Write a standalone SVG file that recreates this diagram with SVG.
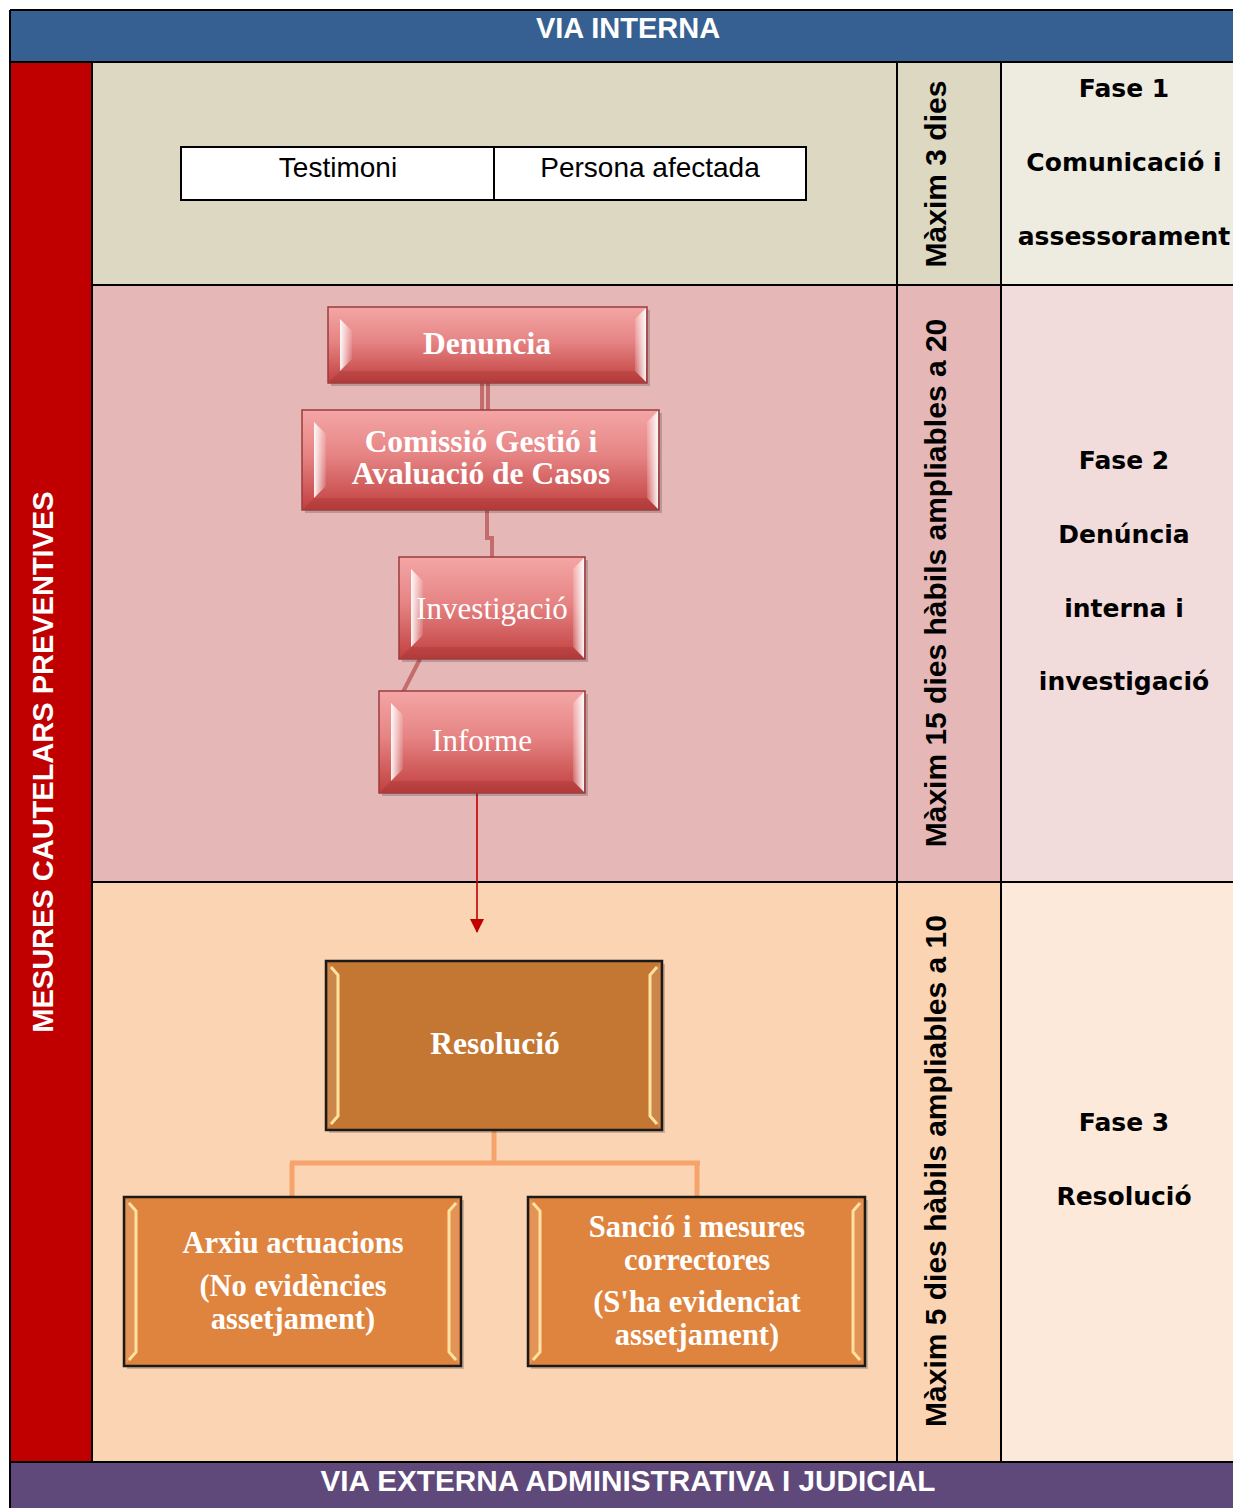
<svg xmlns="http://www.w3.org/2000/svg" width="1233" height="1508" viewBox="0 0 1233 1508">
<defs>
<style>
.grid{stroke:#000;stroke-width:2;fill:none}
.hdr{font-family:"Liberation Sans",Arial,sans-serif;font-weight:bold;font-size:29px;fill:#fff;text-anchor:middle}
.side{font-family:"Liberation Sans",Arial,sans-serif;font-weight:bold;font-size:29px;fill:#fff;text-anchor:middle}
.time{font-family:"Liberation Sans",Arial,sans-serif;font-weight:bold;font-size:30px;fill:#000;text-anchor:middle}
.phase{font-family:"DejaVu Sans",Verdana,sans-serif;font-weight:bold;font-size:25px;fill:#000;text-anchor:middle}
.who{font-family:"Liberation Sans",Arial,sans-serif;font-size:28px;fill:#000;text-anchor:middle}
.nb{font-family:"Liberation Serif","Times New Roman",serif;font-weight:bold;font-size:31.5px;fill:#fff;text-anchor:middle}
.nm{font-family:"Liberation Serif","Times New Roman",serif;font-weight:bold;font-size:30.5px;fill:#fff;text-anchor:middle}
.nr{font-family:"Liberation Serif","Times New Roman",serif;font-size:31px;fill:#fff;text-anchor:middle}
.redbox{fill:url(#redG);stroke:#9A3C3C;stroke-width:1.5}
.resbox{fill:#C47633;stroke:#1A1A1A;stroke-width:2.5}
.orbox{fill:#DF843E;stroke:#1A1A1A;stroke-width:2.5}
.shadow{fill:#000;opacity:0.18}
.bl{fill:url(#bevL)}
.br{fill:url(#bevR)}
.bb{fill:#7A1A1A;opacity:0.18}
.obev{fill:#fff;opacity:0.12}
.oline{stroke:#FFE2A0;stroke-width:3;fill:none}
.rcon{stroke:#C46C6C;stroke-width:4;fill:none}
.ocon{stroke:#F6A46C;stroke-width:5;fill:none}
</style>
<linearGradient id="redG" x1="0" y1="0" x2="0" y2="1">
<stop offset="0" stop-color="#F4A6A6"/>
<stop offset="0.45" stop-color="#E68484"/>
<stop offset="1" stop-color="#C1403F"/>
</linearGradient>
<linearGradient id="bevL" x1="0" y1="0" x2="1" y2="0">
<stop offset="0" stop-color="#fff" stop-opacity="0.95"/>
<stop offset="1" stop-color="#fff" stop-opacity="0.1"/>
</linearGradient>
<linearGradient id="bevR" x1="0" y1="0" x2="1" y2="0">
<stop offset="0" stop-color="#fff" stop-opacity="0.15"/>
<stop offset="1" stop-color="#fff" stop-opacity="0.95"/>
</linearGradient>
<marker id="arr" markerWidth="14" markerHeight="14" refX="13" refY="7" orient="auto" markerUnits="userSpaceOnUse" viewBox="0 0 14 14">
<path d="M0,0 L14,7 L0,14 Z" fill="#C00000"/>
</marker>
</defs>

<rect x="0" y="0" width="1233" height="1508" fill="#fff"/>

<g id="background">
<rect x="10" y="10" width="1223" height="52" fill="#366092"/>
<rect x="10" y="62" width="82" height="1400" fill="#C00000"/>
<rect x="92" y="62" width="909" height="223" fill="#DDD8C2"/>
<rect x="92" y="285" width="909" height="597" fill="#E5B8B7"/>
<rect x="92" y="882" width="909" height="580" fill="#FBD4B4"/>
<rect x="1001" y="62" width="232" height="223" fill="#EEECE1"/>
<rect x="1001" y="285" width="232" height="597" fill="#F2DBDB"/>
<rect x="1001" y="882" width="232" height="580" fill="#FDE9D9"/>
<rect x="10" y="1462" width="1223" height="46" fill="#5F497A"/>
</g>

<g id="gridlines">
<line class="grid" x1="10" y1="10" x2="1233" y2="10"/>
<line class="grid" x1="10" y1="10" x2="10" y2="1508"/>
<line class="grid" x1="10" y1="62" x2="1233" y2="62"/>
<line class="grid" x1="92" y1="285" x2="1233" y2="285"/>
<line class="grid" x1="92" y1="882" x2="1233" y2="882"/>
<line class="grid" x1="10" y1="1462" x2="1233" y2="1462"/>
<line class="grid" x1="92" y1="62" x2="92" y2="1462"/>
<line class="grid" x1="897" y1="62" x2="897" y2="1462"/>
<line class="grid" x1="1001" y1="62" x2="1001" y2="1462"/>
</g>

<g id="headers">
<text class="hdr" x="628" y="38">VIA INTERNA</text>
<text class="hdr" x="628" y="1491" font-size="29.3" textLength="615" lengthAdjust="spacingAndGlyphs">VIA EXTERNA ADMINISTRATIVA I JUDICIAL</text>
<text class="side" transform="translate(53,762) rotate(-90)">MESURES CAUTELARS PREVENTIVES</text>
</g>

<g id="time-labels">
<text class="time" transform="translate(946,174) rotate(-90)">Màxim 3 dies</text>
<text class="time" transform="translate(946,583) rotate(-90)">Màxim 15 dies hàbils ampliables a 20</text>
<text class="time" transform="translate(946,1171) rotate(-90)">Màxim 5 dies hàbils ampliables a 10</text>
</g>

<g id="phase-labels">
<text class="phase" x="1124" y="97">Fase 1</text>
<text class="phase" x="1124" y="171">Comunicació i</text>
<text class="phase" x="1124" y="245">assessorament</text>
<text class="phase" x="1124" y="469">Fase 2</text>
<text class="phase" x="1124" y="543">Denúncia</text>
<text class="phase" x="1124" y="617">interna i</text>
<text class="phase" x="1124" y="690">investigació</text>
<text class="phase" x="1124" y="1131">Fase 3</text>
<text class="phase" x="1124" y="1205">Resolució</text>
</g>

<g id="reporters">
<rect x="181" y="147" width="625" height="53" fill="#fff" stroke="#000" stroke-width="2"/>
<line x1="494" y1="147" x2="494" y2="200" stroke="#000" stroke-width="2"/>
<text class="who" x="338" y="177">Testimoni</text>
<text class="who" x="650" y="177">Persona afectada</text>
</g>

<g id="connectors">
<line class="rcon" x1="482" y1="383" x2="482" y2="410" stroke-width="3"/>
<line class="rcon" x1="488" y1="383" x2="488" y2="410" stroke-width="3"/>
<path class="rcon" d="M487,510 V538 H492 V557"/>
<line class="rcon" x1="420" y1="659" x2="403" y2="692" stroke="#D7A2A2"/>
<line x1="477" y1="793" x2="477" y2="932" stroke="#C00000" stroke-width="1.6" marker-end="url(#arr)"/>
<path class="ocon" d="M494,1130 V1163 M290,1163 H700 M292,1163 V1197 M697,1163 V1197"/>
</g>

<g id="node-denuncia">
<rect class="shadow" x="331" y="310" width="319" height="76"/>
<rect class="redbox" x="328" y="307" width="319" height="76"/>
<polygon class="bl" points="340,319 352,331 352,359 340,371"/>
<polygon class="br" points="635,319 646,308 646,382 635,371"/>
<polygon class="bb" points="329,382 340,371 635,371 646,382"/>
<text class="nb" x="487" y="354">Denuncia</text>
</g>

<g id="node-comissio">
<rect class="shadow" x="305" y="413" width="357" height="100"/>
<rect class="redbox" x="302" y="410" width="357" height="100"/>
<polygon class="bl" points="314,422 326,434 326,486 314,498"/>
<polygon class="br" points="647,422 658,411 658,509 647,498"/>
<polygon class="bb" points="303,509 314,498 647,498 658,509"/>
<text class="nb" x="481" y="452" font-size="30">Comissió Gestió i</text>
<text class="nb" x="481" y="484" font-size="30">Avaluació de Casos</text>
</g>

<g id="node-investigacio">
<rect class="shadow" x="402" y="560" width="186" height="102"/>
<rect class="redbox" x="399" y="557" width="186" height="102"/>
<polygon class="bl" points="411,569 423,581 423,635 411,647"/>
<polygon class="br" points="573,569 584,558 584,658 573,647"/>
<polygon class="bb" points="400,658 411,647 573,647 584,658"/>
<text class="nr" x="492" y="619">Investigació</text>
</g>

<g id="node-informe">
<rect class="shadow" x="382" y="694" width="206" height="102"/>
<rect class="redbox" x="379" y="691" width="206" height="102"/>
<polygon class="bl" points="391,703 403,715 403,769 391,781"/>
<polygon class="br" points="573,703 584,692 584,792 573,781"/>
<polygon class="bb" points="380,792 391,781 573,781 584,792"/>
<text class="nr" x="482" y="751">Informe</text>
</g>

<g id="node-resolucio">
<rect class="shadow" x="329" y="964" width="336" height="169"/>
<rect class="resbox" x="326" y="961" width="336" height="169"/>
<polygon class="obev" points="328,963 338,973 338,1118 328,1128"/>
<polygon class="obev" points="660,963 650,973 650,1118 660,1128"/>
<path class="oline" d="M331,967 L338,975 V1116 L331,1124"/>
<path class="oline" d="M657,967 L650,975 V1116 L657,1124"/>
<text class="nb" x="495" y="1054">Resolució</text>
</g>

<g id="node-arxiu">
<rect class="shadow" x="127" y="1200" width="337" height="169"/>
<rect class="orbox" x="124" y="1197" width="337" height="169"/>
<polygon class="obev" points="126,1199 136,1209 136,1354 126,1364"/>
<polygon class="obev" points="459,1199 449,1209 449,1354 459,1364"/>
<path class="oline" d="M129,1203 L136,1211 V1352 L129,1360"/>
<path class="oline" d="M456,1203 L449,1211 V1352 L456,1360"/>
<text class="nm" x="293" y="1253">Arxiu actuacions</text>
<text class="nm" x="293" y="1296">(No evidències</text>
<text class="nm" x="293" y="1329">assetjament)</text>
</g>

<g id="node-sancio">
<rect class="shadow" x="531" y="1200" width="337" height="169"/>
<rect class="orbox" x="528" y="1197" width="337" height="169"/>
<polygon class="obev" points="530,1199 540,1209 540,1354 530,1364"/>
<polygon class="obev" points="863,1199 853,1209 853,1354 863,1364"/>
<path class="oline" d="M533,1203 L540,1211 V1352 L533,1360"/>
<path class="oline" d="M860,1203 L853,1211 V1352 L860,1360"/>
<text class="nm" x="697" y="1237">Sanció i mesures</text>
<text class="nm" x="697" y="1270">correctores</text>
<text class="nm" x="697" y="1312">(S'ha evidenciat</text>
<text class="nm" x="697" y="1345">assetjament)</text>
</g>
</svg>
